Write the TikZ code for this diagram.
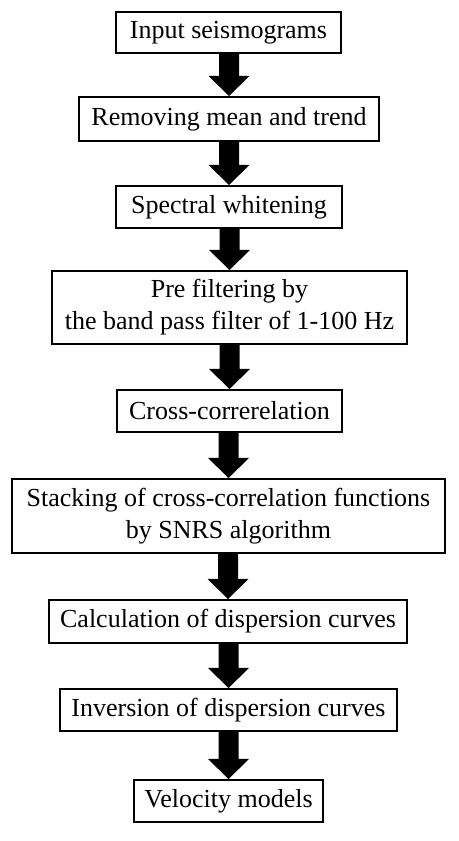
\documentclass[tikz,border=0pt]{standalone}
\usepackage{fontspec}
\setmainfont{Liberation Serif}
\usetikzlibrary{calc}
\tikzset{
  stepbox/.style={draw=black, line width=2pt, fill=white, rectangle, inner sep=0pt,
    align=center, font=\fontsize{26}{32}\selectfont},
}
\newcommand{\flowarrow}[2]{%
  \fill[black] ($(#1.south -| #2.north)+(-10,0)$) -- ($(#2.north)+(-10,20)$) -- ($(#2.north)+(-20.5,20)$)
    -- (#2.north) -- ($(#2.north)+(20.5,20)$) -- ($(#2.north)+(10,20)$)
    -- ($(#1.south -| #2.north)+(10,0)$) -- cycle;}
\begin{document}
\begin{tikzpicture}[x=1pt,y=1pt]
\useasboundingbox[fill=white] (0,0) rectangle (458,841);
\node[stepbox, minimum width=225, minimum height=41] (n1) at (228.5,808.5) {Input seismograms};
\node[stepbox, minimum width=300, minimum height=44] (n2) at (229,722) {Removing mean and trend};
\node[stepbox, minimum width=226, minimum height=42] (n3) at (229,634) {Spectral whitening};
\node[stepbox, minimum width=355, minimum height=73] (n4) at (229.5,533.5) {Pre filtering by\\the band pass filter of 1-100 Hz};
\node[stepbox, minimum width=225, minimum height=42] (n5) at (229.5,430) {Cross-correrelation};
\node[stepbox, minimum width=433, minimum height=74] (n6) at (228.5,325) {Stacking of cross-correlation functions\\by SNRS algorithm};
\node[stepbox, minimum width=358, minimum height=43] (n7) at (228,219.5) {Calculation of dispersion curves};
\node[stepbox, minimum width=337, minimum height=42] (n8) at (228.5,131) {Inversion of dispersion curves};
\node[stepbox, minimum width=189, minimum height=42] (n9) at (228.5,40) {Velocity models};
\flowarrow{n1}{n2}
\flowarrow{n2}{n3}
\flowarrow{n3}{n4}
\flowarrow{n4}{n5}
\flowarrow{n5}{n6}
\flowarrow{n6}{n7}
\flowarrow{n7}{n8}
\flowarrow{n8}{n9}
\end{tikzpicture}
\end{document}
